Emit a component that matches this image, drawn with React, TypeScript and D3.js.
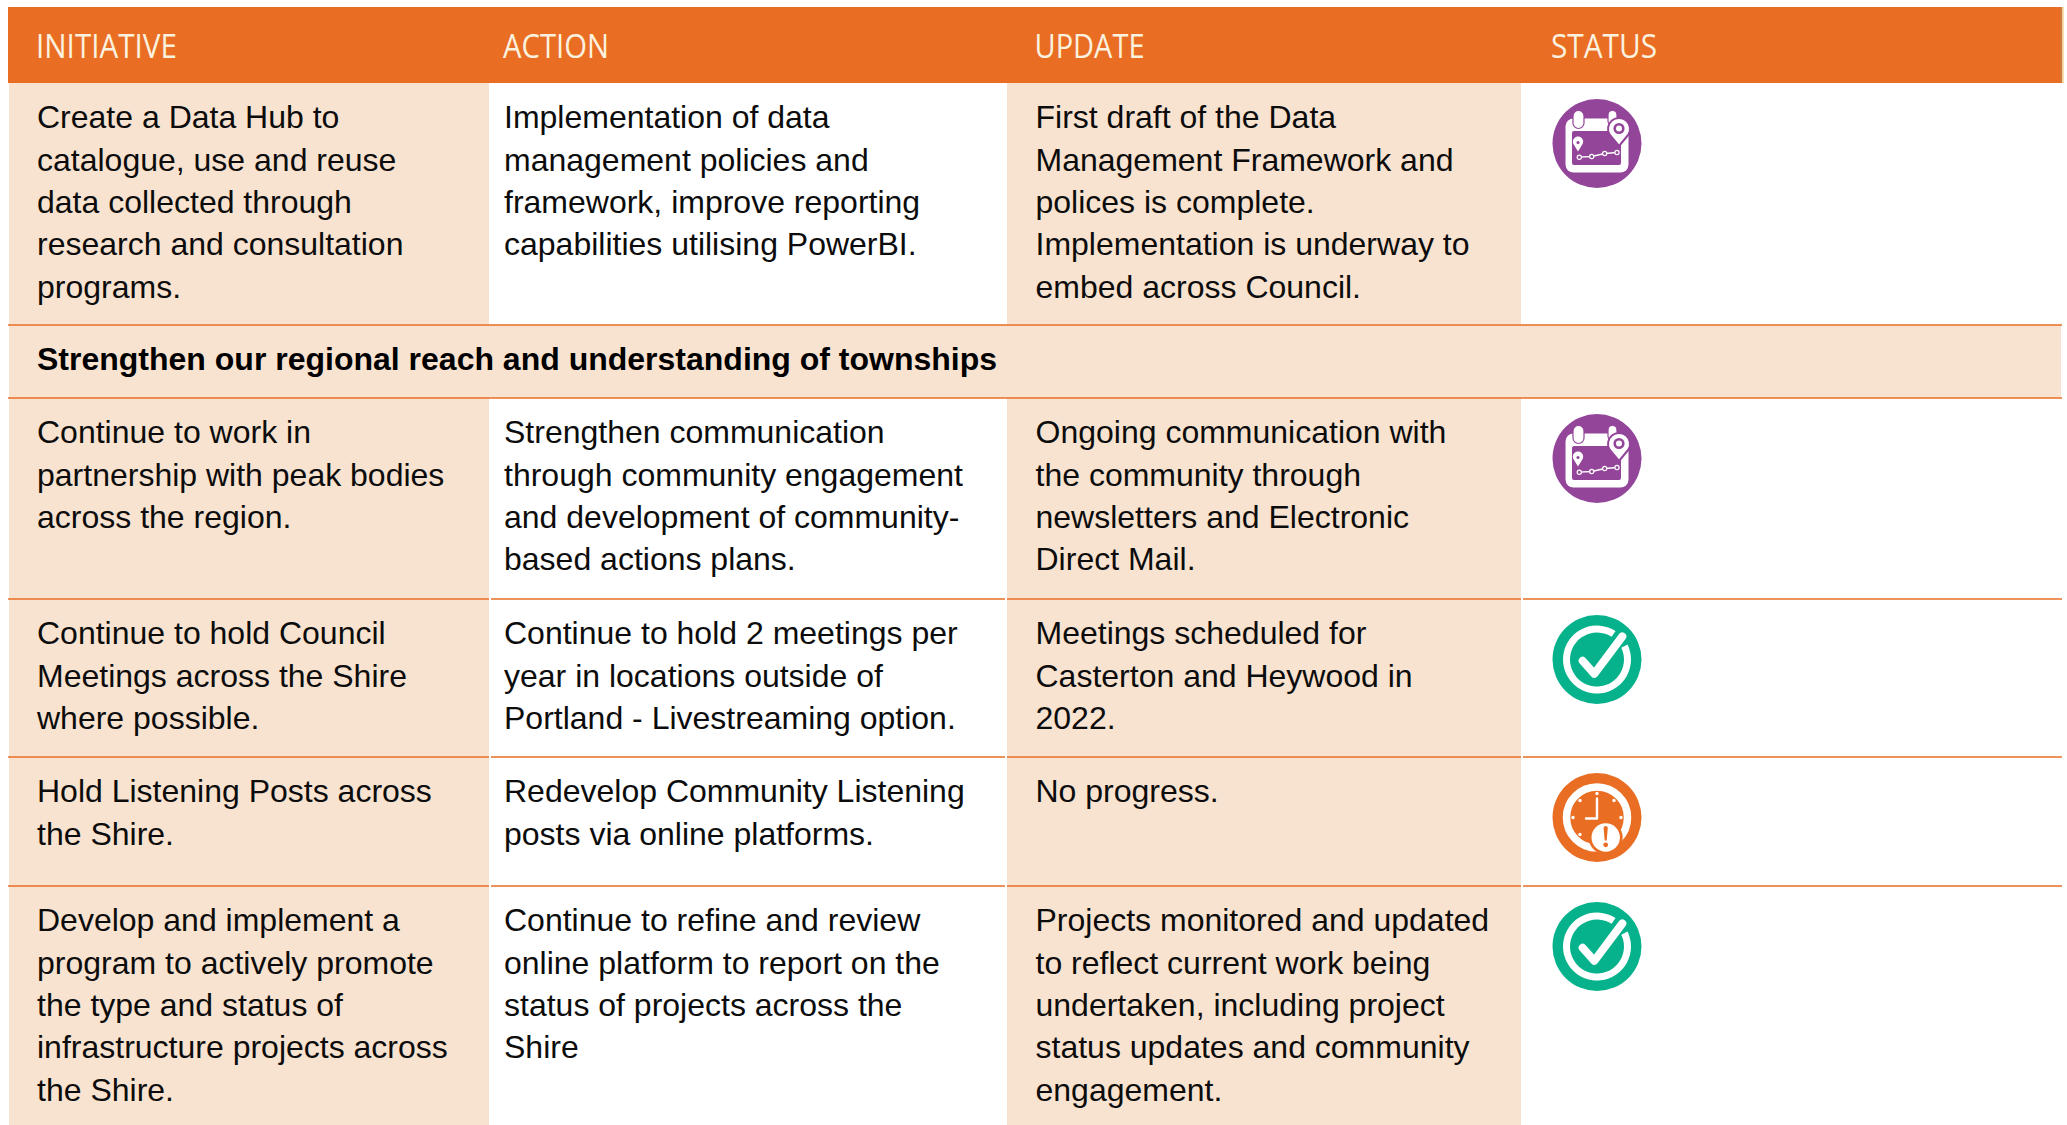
import React from "react";
import * as d3 from "d3";

const WIDTH = 2067;
const HEIGHT = 1125;

const columns = ["INITIATIVE", "ACTION", "UPDATE", "STATUS"];
const sectionTitle = "Strengthen our regional reach and understanding of townships";

const initiatives = [
  ["Create a Data Hub to", "catalogue, use and reuse", "data collected through", "research and consultation", "programs."],
  ["Continue to work in", "partnership with peak bodies", "across the region."],
  ["Continue to hold Council", "Meetings across the Shire", "where possible."],
  ["Hold Listening Posts across", "the Shire."],
  ["Develop and implement a", "program to actively promote", "the type and status of", "infrastructure projects across", "the Shire."],
];
const actions = [
  ["Implementation of data", "management policies and", "framework, improve reporting", "capabilities utilising PowerBI."],
  ["Strengthen communication", "through community engagement", "and development of community-", "based actions plans."],
  ["Continue to hold 2 meetings per", "year in locations outside of", "Portland - Livestreaming option."],
  ["Redevelop Community Listening", "posts via online platforms."],
  ["Continue to refine and review", "online platform to report on the", "status of projects across the", "Shire"],
];
const updates = [
  ["First draft of the Data", "Management Framework and", "polices is complete.", "Implementation is underway to", "embed across Council."],
  ["Ongoing communication with", "the community through", "newsletters and Electronic", "Direct Mail."],
  ["Meetings scheduled for", "Casterton and Heywood in", "2022."],
  ["No progress."],
  ["Projects monitored and updated", "to reflect current work being", "undertaken, including project", "status updates and community", "engagement."],
];
const statuses = ["scheduled", "scheduled", "done", "delayed", "done"];

const ORANGE = "#E96E24";
const PEACH = "#F8E3D0";
const PURPLE = "#93459A";
const GREEN = "#05B28B";
const INK = "#0c0c0c";
const FONT = "'Liberation Sans', Arial, sans-serif";

const rowKeys = d3.range(initiatives.length);
const colX = d3.scaleOrdinal<string, number>().domain(columns).range([37, 504, 1035.5, 1552]);
const headerLen = d3.scaleOrdinal<string, number>().domain(columns).range([141, 106, 110, 106]);
const rowTop = d3.scaleOrdinal<number, number>().domain(rowKeys).range([83, 398, 599, 757, 886]);
const rowBottom = d3.scaleOrdinal<number, number>().domain(rowKeys).range([325, 599, 757, 886, 1125]);
const line = d3.line<[number, number]>();

function ScheduledIcon() {
  const trend: [number, number][] = [[-17.7, 13.7], [-5.3, 13], [7.7, 10], [20, 9]];
  return (
    <g>
      <circle r={44.5} fill={PURPLE} />
      <rect x={-31.5} y={-25} width={63} height={54} rx={8} fill="#fff" />
      <rect x={-25} y={-12.5} width={49} height={34} rx={2} fill={PURPLE} />
      <rect x={-24} y={-33} width={11} height={18} rx={5.5} fill="#fff" stroke={PURPLE} strokeWidth={1.2} />
      <rect x={11} y={-33} width={9} height={15} rx={4.5} fill="#fff" stroke={PURPLE} strokeWidth={1.2} />
      <path d="M22,2.5 L12.5,-9 A11,11 0 1 1 31.5,-9 Z" fill="#fff" stroke={PURPLE} strokeWidth={2} strokeLinejoin="round" />
      <circle cx={22} cy={-15} r={4.3} fill="#fff" stroke={PURPLE} strokeWidth={2.6} />
      <path d="M-19,8 L-23,1.5 A5.2,5.2 0 1 1 -15,1.5 Z" fill="#fff" />
      <circle cx={-19} cy={-1} r={1.6} fill={PURPLE} />
      <path d={line(trend) ?? ""} fill="none" stroke="#fff" strokeWidth={1.3} />
      {trend.map(([x, y], i) => (
        <circle key={i} cx={x} cy={y} r={2.1} fill={PURPLE} stroke="#fff" strokeWidth={1.2} />
      ))}
    </g>
  );
}

function DoneIcon() {
  const arc = d3.arc()({
    innerRadius: 27,
    outerRadius: 34,
    startAngle: (64 * Math.PI) / 180,
    endAngle: ((360 + 33) * Math.PI) / 180,
  });
  const tick: [number, number][] = [[-14.3, 1.3], [-2.7, 14.3], [25.3, -23]];
  return (
    <g>
      <circle r={44.5} fill={GREEN} />
      <path d={arc ?? ""} fill="#fff" />
      <path d={line(tick) ?? ""} fill="none" stroke="#fff" strokeWidth={8} strokeLinecap="round" strokeLinejoin="round" />
    </g>
  );
}

function DelayedIcon() {
  const dots: [number, number][] = [[0, -24], [17, -17], [24, 0], [-17, -17], [-24, 0], [-17, 17]];
  const hands: [number, number][] = [[0, -19], [0, 1], [-11, 1]];
  return (
    <g>
      <circle r={44.5} fill={ORANGE} />
      <circle r={30.5} fill="none" stroke="#fff" strokeWidth={7.5} />
      {dots.map(([x, y], i) => (
        <circle key={i} cx={x} cy={y} r={1.7} fill="#fff" />
      ))}
      <path d={line(hands) ?? ""} fill="none" stroke="#fff" strokeWidth={2.4} strokeLinecap="round" strokeLinejoin="round" />
      <circle cx={8.7} cy={20} r={17} fill={ORANGE} />
      <circle cx={8.7} cy={20} r={14.2} fill="#fff" />
      <path d="M6.6,10.5 A2.1,2.1 0 0 1 10.8,10.5 L9.7,23 L7.7,23 Z" fill={ORANGE} />
      <circle cx={8.7} cy={27.3} r={2.4} fill={ORANGE} />
    </g>
  );
}

const iconFor: Record<string, () => React.ReactElement> = {
  scheduled: ScheduledIcon,
  done: DoneIcon,
  delayed: DelayedIcon,
};

function Cell({ lines, x, y }: { lines: string[]; x: number; y: number }) {
  return (
    <g>
      {lines.map((t, i) => (
        <text key={i} x={x} y={y + i * 42.35} fontFamily={FONT} fontSize={32} fill={INK}>
          {t}
        </text>
      ))}
    </g>
  );
}

export default function App() {
  return (
    <svg
      width={WIDTH}
      height={HEIGHT}
      viewBox={`0 0 ${WIDTH} ${HEIGHT}`}
      style={{ position: "fixed", left: 0, top: 0, display: "block", background: "#fff" }}
    >
      {/* header */}
      <rect x={8} y={7} width={2052} height={76} fill={ORANGE} />
      <rect x={2060} y={7} width={2.5} height={76} fill="#CF7A3E" />
      <rect x={2062.5} y={7} width={1.5} height={76} fill="#F8E0A8" />
      {columns.map((c) => (
        <text
          key={c}
          x={colX(c) - 1}
          y={58}
          fontFamily="'Open Sans', sans-serif"
          fontSize={32}
          fontWeight={500}
          fill="#FBF1DF"
          textLength={headerLen(c)}
          lengthAdjust="spacingAndGlyphs"
        >
          {c}
        </text>
      ))}

      {/* shaded columns */}
      {rowKeys.map((r) => (
        <g key={r}>
          <rect x={9} y={rowTop(r)} width={480} height={rowBottom(r) - rowTop(r)} fill={PEACH} />
          <rect x={1007} y={rowTop(r)} width={514} height={rowBottom(r) - rowTop(r)} fill={PEACH} />
        </g>
      ))}
      <rect x={9} y={325} width={2052} height={73} fill={PEACH} />

      {/* continuous rules */}
      {[325, 398].map((y) => (
        <line key={y} x1={8} x2={2062} y1={y} y2={y} stroke={ORANGE} strokeWidth={1.6} />
      ))}
      {/* segmented rules */}
      {[599, 757, 886].map((y) =>
        [[8, 489], [491, 1005], [1007, 1521], [1523, 2062]].map(([a, b]) => (
          <line key={`${y}-${a}`} x1={a} x2={b} y1={y} y2={y} stroke={ORANGE} strokeWidth={1.6} />
        ))
      )}

      <text x={37} y={370} fontFamily={FONT} fontSize={32} fontWeight={700} fill="#000">
        {sectionTitle}
      </text>

      {rowKeys.map((r) => {
        const Icon = iconFor[statuses[r]];
        const base = rowTop(r) + 45.3;
        return (
          <g key={r}>
            <Cell lines={initiatives[r]} x={colX("INITIATIVE")} y={base} />
            <Cell lines={actions[r]} x={colX("ACTION")} y={base} />
            <Cell lines={updates[r]} x={colX("UPDATE")} y={base} />
            <g transform={`translate(1597,${rowTop(r) + 60.5})`}>
              <Icon />
            </g>
          </g>
        );
      })}
    </svg>
  );
}
